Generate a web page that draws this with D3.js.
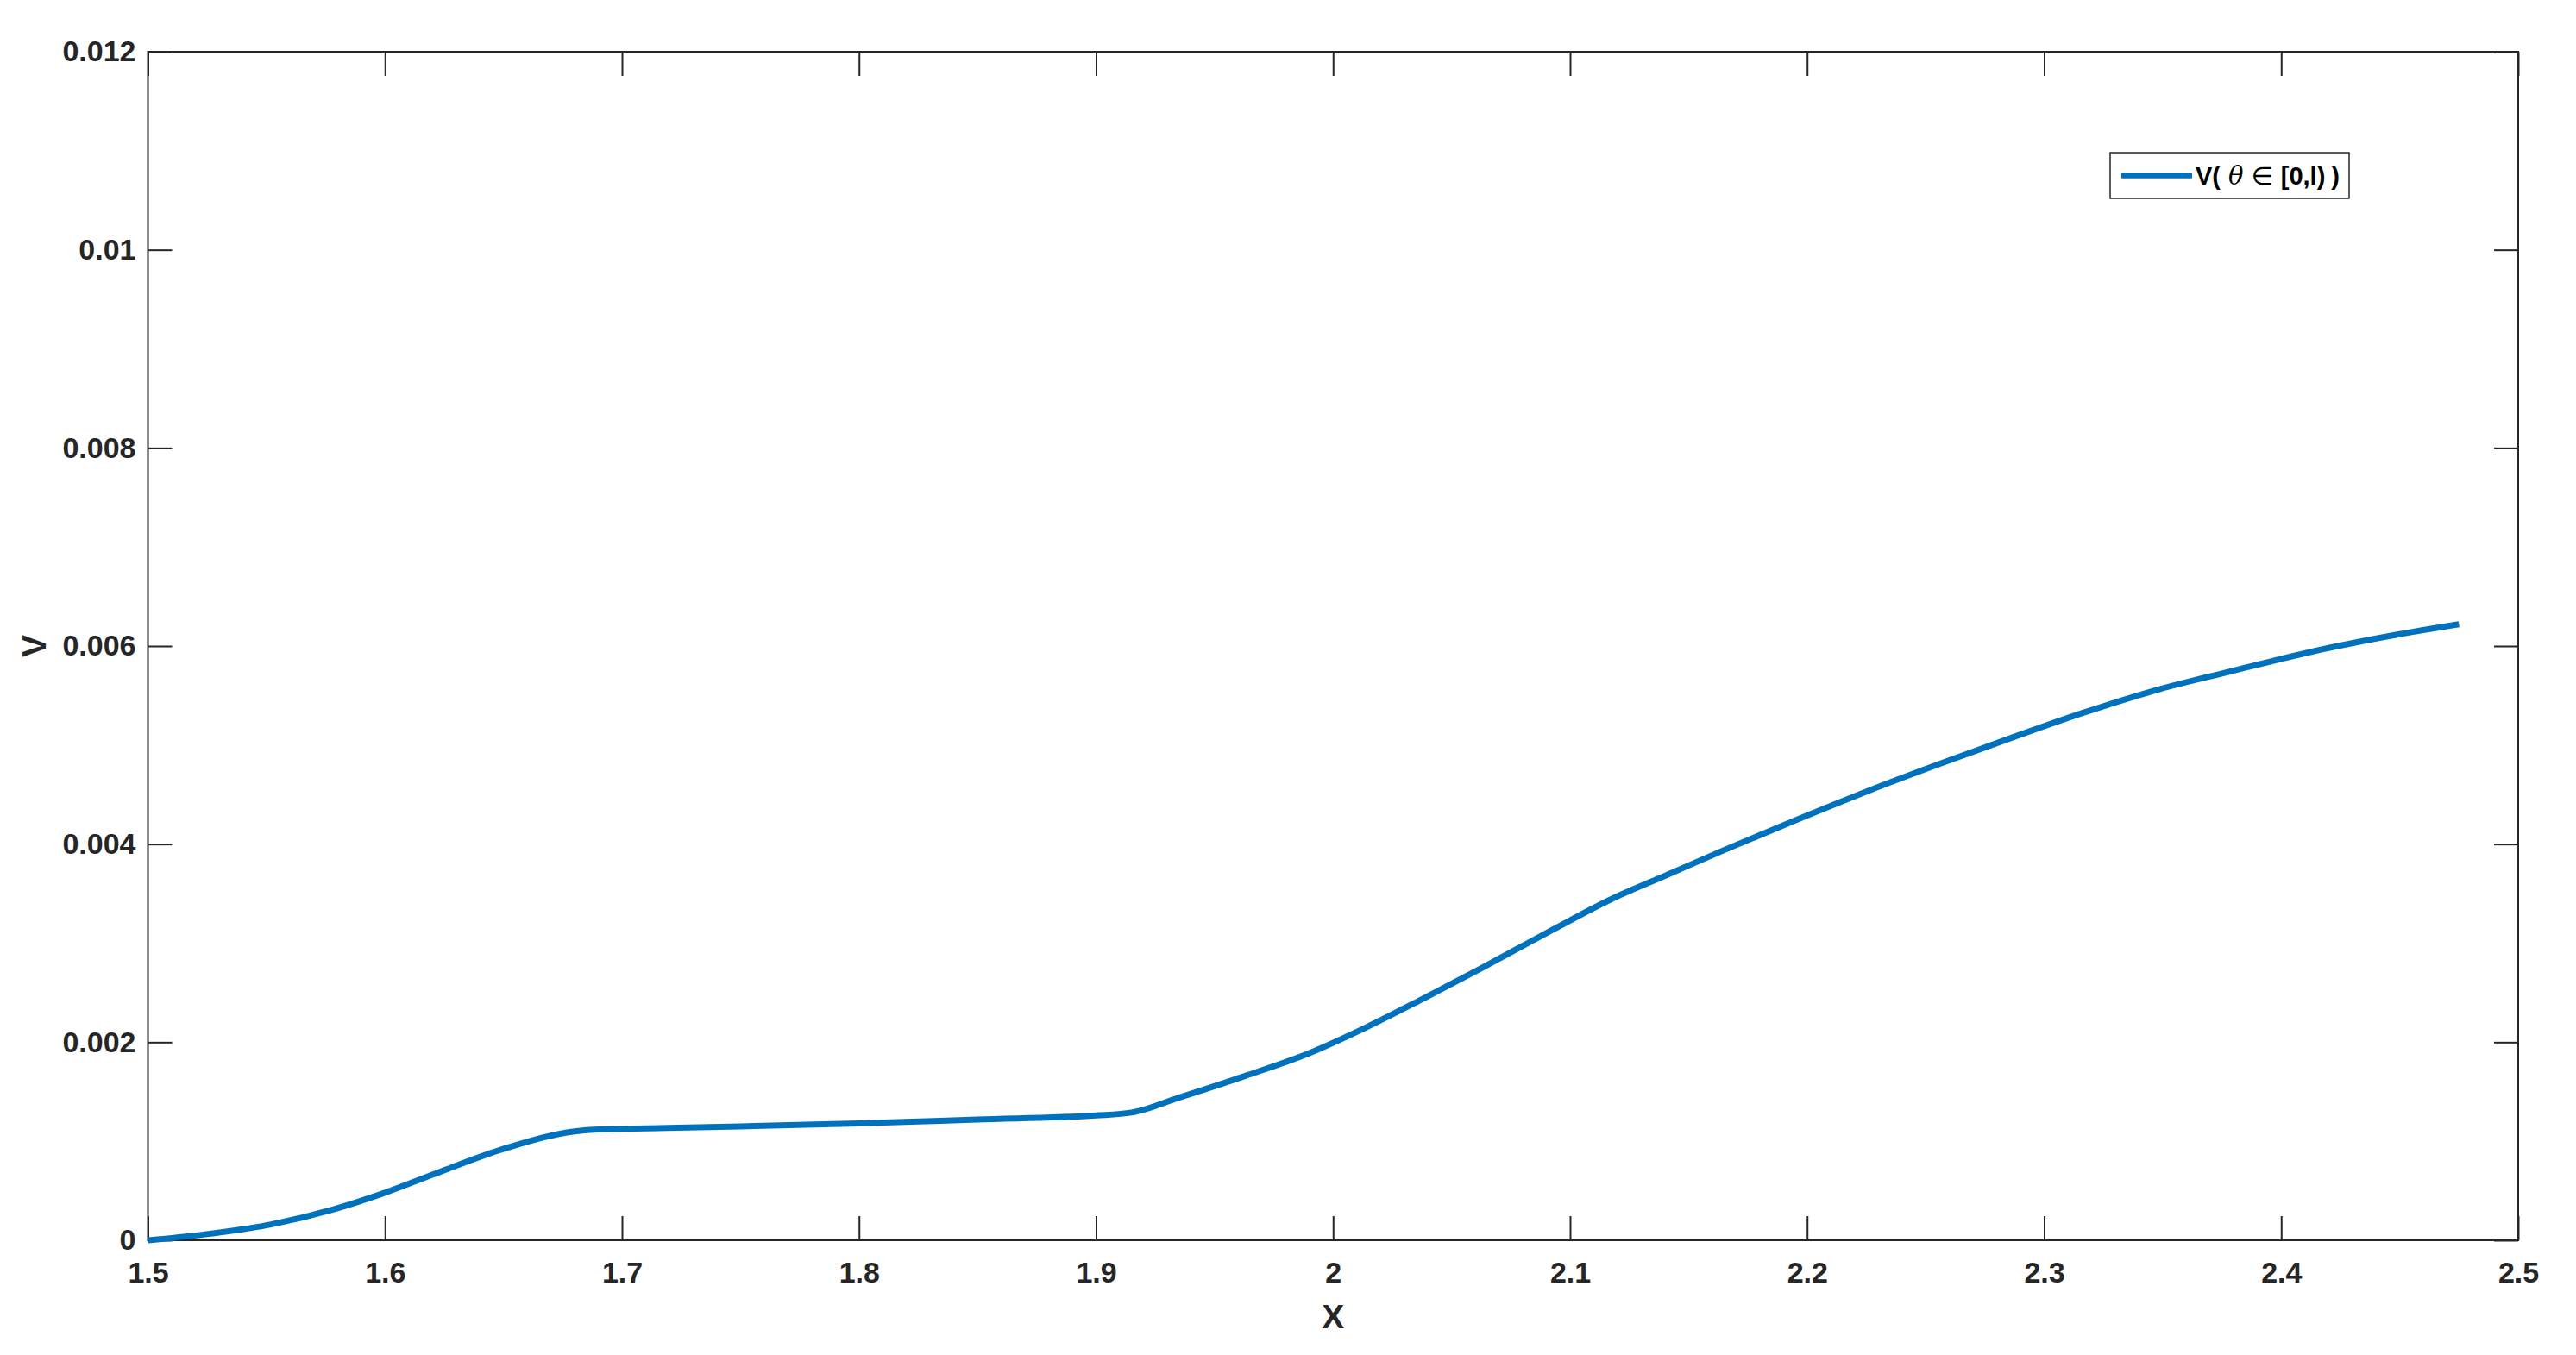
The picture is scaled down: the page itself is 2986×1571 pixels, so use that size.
<!DOCTYPE html>
<html>
<head>
<meta charset="utf-8">
<script src="https://cdn.jsdelivr.net/npm/d3@7"></script>
<style>
html, body { margin: 0; padding: 0; background: #ffffff; }
svg { display: block; }
</style>
</head>
<body>
<svg id="chart" width="2986" height="1571"></svg>
<script>
// ---- data ----
const xValues = [1.5, 1.524, 1.552, 1.578, 1.6, 1.621, 1.651, 1.68, 1.69, 1.7, 1.75, 1.8, 1.85, 1.9, 1.915,
  1.935, 1.963, 1.99, 2.014, 2.038, 2.062, 2.093, 2.117, 2.141, 2.166, 2.196, 2.226, 2.257,
  2.287, 2.317, 2.348, 2.378, 2.42, 2.45, 2.475];
const vValues = [0, 0.00006, 0.00016, 0.00031, 0.00048, 0.00067, 0.00093, 0.0011, 0.00112, 0.001125,
  0.00115, 0.00118, 0.00122, 0.00126, 0.00129, 0.00144, 0.00166, 0.00189, 0.00215, 0.00244,
  0.00274, 0.00314, 0.00344, 0.00369, 0.00395, 0.00425, 0.00454, 0.00482,
  0.00508, 0.00533, 0.00556, 0.00574, 0.00598, 0.00612, 0.00622];
const xTicks = [1.5, 1.6, 1.7, 1.8, 1.9, 2.0, 2.1, 2.2, 2.3, 2.4, 2.5];
const xTickLabels = ["1.5", "1.6", "1.7", "1.8", "1.9", "2", "2.1", "2.2", "2.3", "2.4", "2.5"];
const yTicks = [0, 0.002, 0.004, 0.006, 0.008, 0.01, 0.012];
const yTickLabels = ["0", "0.002", "0.004", "0.006", "0.008", "0.01", "0.012"];
const xLabel = "X";
const yLabel = "V";

// ---- layout ----
const L = 171.5, R = 2919, T = 60, B = 1438;
const axisColor = "#262626";
const lineColor = "#0072BD";
const font = "'Liberation Sans', Arial, Helvetica, sans-serif";

const svg = d3.select("#chart");
svg.append("rect").attr("width", 2986).attr("height", 1571).attr("fill", "#ffffff");

const x = d3.scaleLinear().domain([1.5, 2.5]).range([L, R]);
const y = d3.scaleLinear().domain([0, 0.012]).range([B, T]);

const tickLen = 28;

function styleAxis(g) {
  g.select(".domain").remove();
  g.selectAll(".tick line").attr("stroke", axisColor).attr("stroke-width", 2);
  g.selectAll(".tick text")
    .attr("fill", axisColor)
    .style("font-family", font)
    .style("font-weight", "bold")
    .style("font-size", "34px");
}

svg.append("g")
  .attr("transform", `translate(0,${B})`)
  .call(d3.axisBottom(x).tickValues(xTicks)
    .tickFormat((d, i) => xTickLabels[i])
    .tickSizeInner(-tickLen).tickSizeOuter(0).tickPadding(25))
  .call(styleAxis);

svg.append("g")
  .attr("transform", `translate(0,${T})`)
  .call(d3.axisTop(x).tickValues(xTicks).tickFormat("")
    .tickSizeInner(-tickLen).tickSizeOuter(0))
  .call(styleAxis);

svg.append("g")
  .attr("transform", `translate(${L},0)`)
  .call(d3.axisLeft(y).tickValues(yTicks)
    .tickFormat((d, i) => yTickLabels[i])
    .tickSizeInner(-tickLen).tickSizeOuter(0).tickPadding(14))
  .call(styleAxis);

svg.append("g")
  .attr("transform", `translate(${R},0)`)
  .call(d3.axisRight(y).tickValues(yTicks).tickFormat("")
    .tickSizeInner(-tickLen).tickSizeOuter(0))
  .call(styleAxis);

svg.append("rect")
  .attr("x", L).attr("y", T)
  .attr("width", R - L).attr("height", B - T)
  .attr("fill", "none")
  .attr("stroke", axisColor)
  .attr("stroke-width", 2);

const data = xValues.map((d, i) => ({ x: d, v: vValues[i] }));
svg.append("path")
  .datum(data)
  .attr("fill", "none")
  .attr("stroke", lineColor)
  .attr("stroke-width", 7)
  .attr("stroke-linejoin", "round")
  .attr("d", d3.line().x(d => x(d.x)).y(d => y(d.v)).curve(d3.curveMonotoneX));

svg.append("text")
  .attr("x", (L + R) / 2).attr("y", 1540)
  .attr("text-anchor", "middle")
  .attr("fill", axisColor)
  .style("font-family", font).style("font-weight", "bold").style("font-size", "39px")
  .text(xLabel);

svg.append("text")
  .attr("transform", `translate(53,${(T + B) / 2}) rotate(-90)`)
  .attr("text-anchor", "middle")
  .attr("fill", axisColor)
  .style("font-family", font).style("font-weight", "bold").style("font-size", "39px")
  .text(yLabel);

const lg = svg.append("g");
lg.append("rect")
  .attr("x", 2446).attr("y", 177).attr("width", 277).attr("height", 53)
  .attr("fill", "#ffffff").attr("stroke", axisColor).attr("stroke-width", 1.5);
lg.append("line")
  .attr("x1", 2459).attr("x2", 2541).attr("y1", 203.5).attr("y2", 203.5)
  .attr("stroke", lineColor).attr("stroke-width", 6.5);
const lt = lg.append("text")
  .attr("x", 2545).attr("y", 214)
  .attr("fill", "#000000")
  .style("font-family", font).style("font-size", "29px");
lt.append("tspan").style("font-weight", "bold").text("V(");
lt.append("tspan").attr("dx", 9).style("font-style", "italic").style("font-family", "'DejaVu Serif', serif").text("θ");
lt.append("tspan").attr("dx", 9).style("font-family", "'DejaVu Sans', sans-serif").text("∈");
lt.append("tspan").attr("dx", 9).style("font-weight", "bold").text("[0,l)");
lt.append("tspan").attr("dx", 7).style("font-weight", "bold").text(")");
</script>
</body>
</html>
